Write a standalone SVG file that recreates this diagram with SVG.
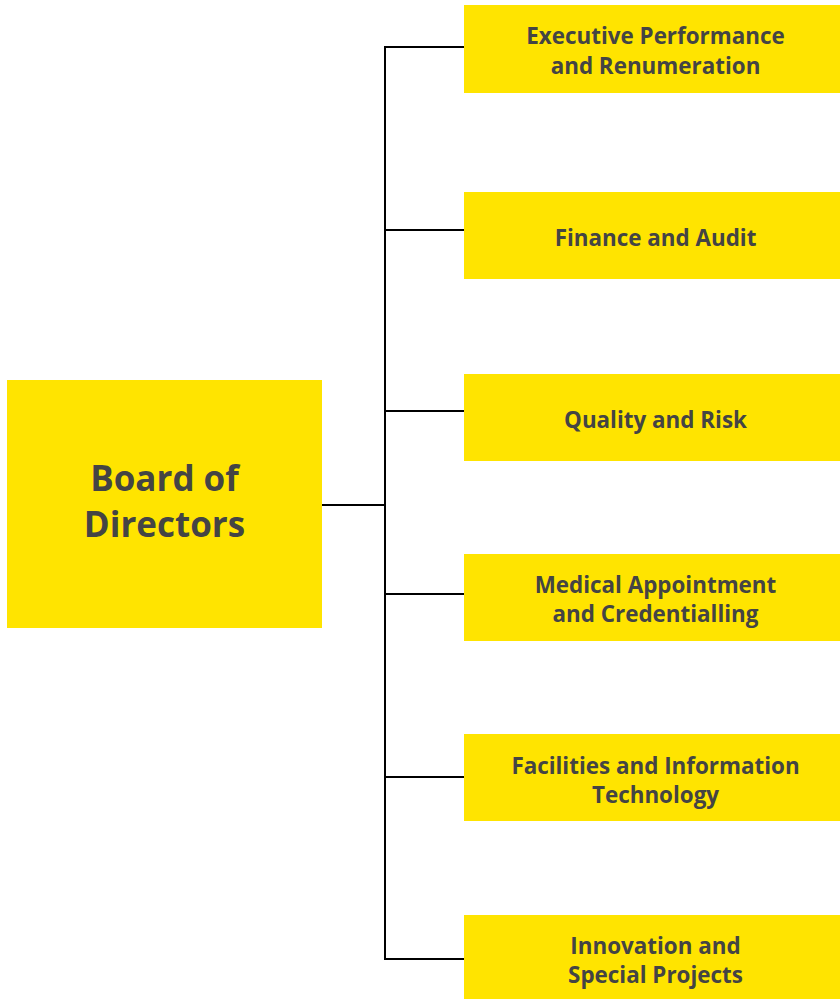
<svg xmlns="http://www.w3.org/2000/svg" width="840" height="999" viewBox="0 0 840 999">
  <style>
    .box { fill: #FFE400; }
    .lbl { font-family: "Open Sans", "Liberation Sans", sans-serif; font-weight: 700; font-size: 22.4px; fill: #444444; text-anchor: middle; }
    .big { font-size: 35px; }
    .wire { stroke: #000000; stroke-width: 2; fill: none; }
  </style>
  <rect width="840" height="999" fill="#ffffff"/>

  <!-- connectors -->
  <g id="connectors">
    <path class="wire" d="M322 505 H385"/>
    <path class="wire" d="M464 47 H385 V959 H464"/>
    <path class="wire" d="M385 230 H464"/>
    <path class="wire" d="M385 411 H464"/>
    <path class="wire" d="M385 594 H464"/>
    <path class="wire" d="M385 777 H464"/>
  </g>

  <g id="board">
    <rect class="box" x="7" y="380" width="315" height="248"/>
    <text class="lbl big" x="164.5" y="491">Board of</text>
    <text class="lbl big" x="164.5" y="537">Directors</text>
  </g>

  <g id="exec-performance">
    <rect class="box" x="464" y="5" width="376" height="88"/>
    <text class="lbl" x="655.5" y="44">Executive Performance</text>
    <text class="lbl" x="655.5" y="74">and Renumeration</text>
  </g>

  <g id="finance-audit">
    <rect class="box" x="464" y="192" width="376" height="87"/>
    <text class="lbl" x="655.5" y="246">Finance and Audit</text>
  </g>

  <g id="quality-risk">
    <rect class="box" x="464" y="374" width="376" height="87"/>
    <text class="lbl" x="655.5" y="428">Quality and Risk</text>
  </g>

  <g id="medical-appointment">
    <rect class="box" x="464" y="554" width="376" height="87"/>
    <text class="lbl" x="655.5" y="593">Medical Appointment</text>
    <text class="lbl" x="655.5" y="622">and Credentialling</text>
  </g>

  <g id="facilities-it">
    <rect class="box" x="464" y="734" width="376" height="87"/>
    <text class="lbl" x="655.5" y="774">Facilities and Information</text>
    <text class="lbl" x="655.5" y="803">Technology</text>
  </g>

  <g id="innovation">
    <rect class="box" x="464" y="915" width="376" height="84"/>
    <text class="lbl" x="655.5" y="954">Innovation and</text>
    <text class="lbl" x="655.5" y="983">Special Projects</text>
  </g>
</svg>
